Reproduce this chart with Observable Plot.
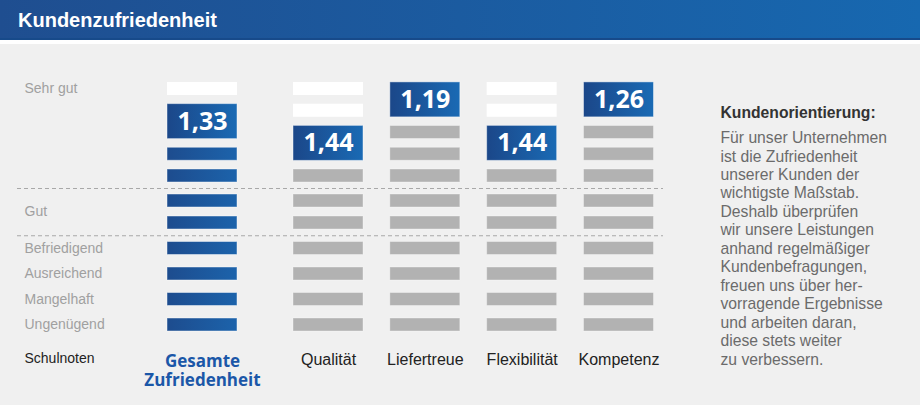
<!DOCTYPE html>
<html><head><meta charset="utf-8">
<script src="https://cdn.jsdelivr.net/npm/d3@7"></script>
<script src="https://cdn.jsdelivr.net/npm/@observablehq/plot@0.6"></script>
<style>
html,body{margin:0;padding:0;width:920px;height:405px;overflow:hidden;background:#f0f0f0;font-family:"Liberation Sans",Arial,sans-serif}
#hdr{height:38px;background:linear-gradient(to right,#1f4e90,#1768b0);border-bottom:2px solid #174a8a;position:relative}
#hdr h1{margin:0;position:absolute;left:18px;top:8px;font-size:20px;line-height:24px;color:#fff;font-weight:bold;letter-spacing:0}
#gap{height:4px;background:#fff}
#chart svg{display:block}
</style></head><body>
<div id="hdr"><h1>Kundenzufriedenheit</h1></div><div id="gap"></div>
<div id="chart"></div>
<script>
// ---- data ----
const categories = ["Gesamte Zufriedenheit", "Qualität", "Liefertreue", "Flexibilität", "Kompetenz"];
const values = [1.33, 1.44, 1.19, 1.44, 1.26];
const gradeLabels = ["Sehr gut", "Gut", "Befriedigend", "Ausreichend", "Mangelhaft", "Ungenügend"];
const gradeSlots = [1, 6.5, 8, 9, 10, 11];      // slot (row) of each grade label
const slotCount = 11;                            // rows in each column
const gradeBreaks = [5.5, 7.5];                  // dashed separators between grade groups
const axisTitle = "Schulnoten";
const noteTitle = "Kundenorientierung:";
const noteLines = [
  "Für unser Unternehmen",
  "ist die Zufriedenheit",
  "unserer Kunden der",
  "wichtigste Maßstab.",
  "Deshalb überprüfen",
  "wir unsere Leistungen",
  "anhand regelmäßiger",
  "Kundenbefragungen,",
  "freuen uns über her-",
  "vorragende Ergebnisse",
  "und arbeiten daran,",
  "diese stets weiter",
  "zu verbessern."
];

// ---- derived tables ----
const boxTop = d3.scaleThreshold().domain([1.28, 1.38]).range([1, 2, 3]);
const cols = categories.map((name, i) => ({i, name, v: values[i], top: boxTop(values[i])}));
const cells = [];
for (const c of cols) {
  for (let s = 1; s <= slotCount; s++) {
    const state = s < c.top ? "empty" : s <= c.top + 1 ? "box" : "filled";
    cells.push({i: c.i, s, state, main: c.i === 0});
  }
}
const fmt = v => v.toFixed(2).replace(".", ",");

const bar = {x1: "i", x2: "i", y1: "s", y2: "s", insetLeft: -35, insetRight: -35, insetTop: -6.5, insetBottom: -6.5};

const svg = Plot.plot({
  width: 920,
  height: 361,
  marginLeft: 17,
  marginRight: 257,
  marginTop: 0,
  marginBottom: 0,
  x: {type: "linear", domain: [0, 1, 4], range: [202, 328, 618.5], axis: null},
  y: {type: "linear", domain: [1, 5, 6, 7, 11], range: [44.5, 131.5, 156.5, 178.5, 280.5], axis: null},
  style: {background: "#f0f0f0", fontFamily: "'Liberation Sans', Arial, sans-serif", overflow: "visible"},
  marks: [
    Plot.ruleY(gradeBreaks, {stroke: "#a8a8a8", strokeWidth: 1, strokeDasharray: "4,3"}),
    Plot.rect(cells.filter(d => d.state === "empty"), {...bar, fill: "#ffffff"}),
    Plot.rect(cells.filter(d => d.state === "filled" && !d.main), {...bar, fill: "#b2b2b2", stroke: "#ffffff", strokeOpacity: 0.35, strokeWidth: 1}),
    Plot.rect(cells.filter(d => d.state === "filled" && d.main), {...bar, fill: "url(#barGrad)", stroke: "#ffffff", strokeOpacity: 0.45, strokeWidth: 1}),
    Plot.rect(cols, {x1: "i", x2: "i", y1: d => d.top + 0.5, y2: d => d.top + 0.5, insetLeft: -35, insetRight: -35, insetTop: -17.5, insetBottom: -17.5, fill: "url(#boxGrad)", stroke: "#ffffff", strokeOpacity: 0.45, strokeWidth: 1}),
    Plot.text(cols, {x: "i", y: d => d.top + 0.5, text: d => fmt(d.v), fill: "#ffffff", fontSize: 25, fontWeight: "bold", fontFamily: "'Open Sans', sans-serif"}),
    Plot.text(gradeLabels, {y: (d, i) => gradeSlots[i], text: d => d, frameAnchor: "left", dx: 7, textAnchor: "start", fill: "#a0a0a0", fontSize: 14}),
    Plot.text([axisTitle], {frameAnchor: "bottom-left", dx: 7, dy: -52, textAnchor: "start", lineAnchor: "top", fill: "#222222", fontSize: 14}),
    Plot.text(cols.filter(d => d.i === 0), {x: "i", text: d => d.name.replace(" ", "\n"), frameAnchor: "bottom", dy: -52, lineAnchor: "top", fill: "#1b57a8", fontSize: 17, fontWeight: "bold", fontFamily: "'Open Sans', sans-serif", lineHeight: 1.12}),
    Plot.text(cols.filter(d => d.i > 0), {x: "i", text: "name", frameAnchor: "bottom", dy: -52, lineAnchor: "top", fill: "#222222", fontSize: 16}),
    Plot.text([noteTitle], {frameAnchor: "top-right", dx: 57, dy: 62, textAnchor: "start", lineAnchor: "top", fill: "#333333", fontSize: 15.7, fontWeight: "bold"}),
    Plot.text([noteLines.join("\n")], {frameAnchor: "top-right", dx: 57, dy: 85.5, textAnchor: "start", lineAnchor: "top", fill: "#6b6b6b", fontSize: 15.7, lineHeight: 1.176})
  ]
});

const defs = d3.select(svg).insert("defs", ":first-child");
const g1 = defs.append("linearGradient").attr("id", "boxGrad").attr("x1", "0").attr("x2", "1").attr("y1", "0").attr("y2", "0");
g1.append("stop").attr("offset", "0").attr("stop-color", "#1b4789");
g1.append("stop").attr("offset", "1").attr("stop-color", "#1a6ab4");
const g2 = defs.append("linearGradient").attr("id", "barGrad").attr("x1", "0").attr("x2", "1").attr("y1", "0").attr("y2", "0");
g2.append("stop").attr("offset", "0").attr("stop-color", "#1d4c8e");
g2.append("stop").attr("offset", "1").attr("stop-color", "#1c63ab");

document.getElementById("chart").appendChild(svg);
</script>
</body></html>
